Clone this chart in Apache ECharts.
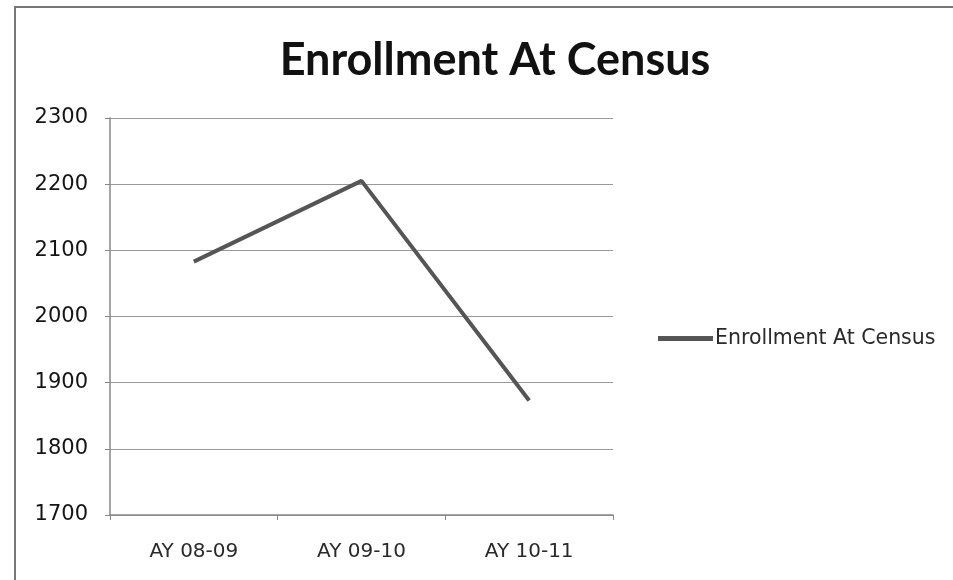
<!DOCTYPE html>
<html><head><meta charset="utf-8">
<script src="https://cdn.jsdelivr.net/npm/echarts@6/dist/echarts.min.js"></script>
<style>html,body{margin:0;padding:0;background:#fff}#c{width:953px;height:580px}</style>
</head><body><div id="c"></div>
<script>
const categories = ['AY 08-09', 'AY 09-10', 'AY 10-11'];
const enrollment = [2083, 2205, 1873];
const seriesName = 'Enrollment At Census';
const titleText = 'Enrollment At Census';

const chart = echarts.init(document.getElementById('c'));
chart.setOption({
  backgroundColor: '#fff',
  animation: false,
  title: {
    text: titleText, left: 490, top: 33, textAlign: 'center',
    textStyle: { fontFamily: 'Lato', fontWeight: 'bold', fontSize: 45, color: '#111' }
  },
  legend: {
    data: [seriesName], left: 653, top: 323, itemWidth: 55, itemHeight: 24, itemGap: 4,
    icon: 'path://M0,9.5 L55,9.5 L55,14.5 L0,14.5 Z',
    textStyle: { fontFamily: 'DejaVu Sans', fontSize: 20.5, color: '#2a2a2a', padding: [0,0,0,-3] }
  },
  graphic: [{
    type: 'rect', shape: { x: 15, y: 7, width: 950, height: 580 },
    style: { fill: 'none', stroke: '#777', lineWidth: 2 }, silent: true
  }],
  grid: { left: 110, right: 340, top: 118, bottom: 65 },
  xAxis: {
    type: 'category', data: categories, boundaryGap: true,
    axisLine: { lineStyle: { color: '#888', width: 1.5 } },
    axisTick: { show: true, length: 5, lineStyle: { color: '#888' } },
    axisLabel: { fontFamily: 'DejaVu Sans', fontSize: 20, color: '#2a2a2a', margin: 27 }
  },
  yAxis: {
    type: 'value', min: 1700, max: 2300, interval: 100,
    axisLine: { show: true, lineStyle: { color: '#888', width: 1.5 } },
    axisTick: { show: true, length: 5, lineStyle: { color: '#888' } },
    splitLine: { lineStyle: { color: '#999', width: 1.2 } },
    axisLabel: { fontFamily: 'DejaVu Sans', fontSize: 21, color: '#151515', margin: 22,
      formatter: v => String(v) }
  },
  series: [{
    name: seriesName, type: 'line', data: enrollment,
    symbol: 'none', lineStyle: { color: '#555', width: 4 }, itemStyle: { color: '#555' }
  }]
});
</script></body></html>
